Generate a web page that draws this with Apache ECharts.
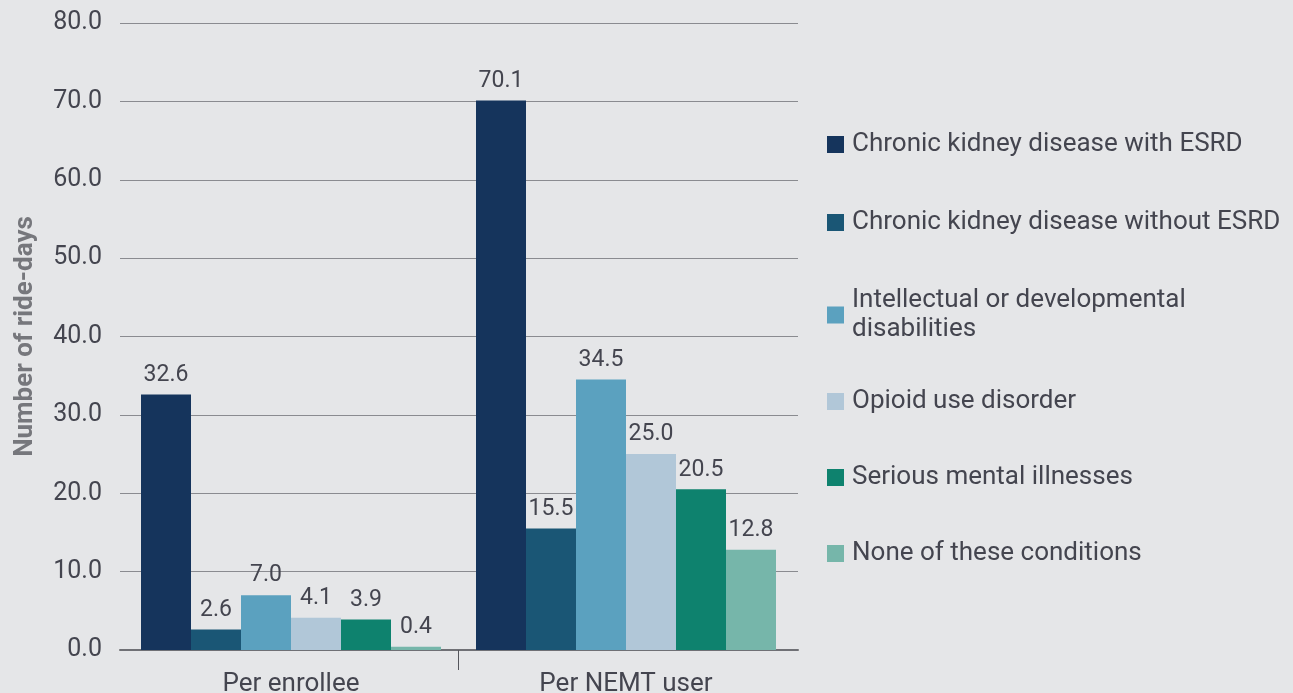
<!DOCTYPE html>
<html>
<head>
<meta charset="utf-8">
<script src="https://cdn.jsdelivr.net/npm/echarts@6/dist/echarts.min.js"></script>
<style>
html,body{margin:0;padding:0;background:#e5e6e8;}
#c{width:1293px;height:693px;}
</style>
</head>
<body>
<div id="c"></div>
<script>
const categories = ['Per enrollee', 'Per NEMT user'];
const seriesNames = [
  'Chronic kidney disease with ESRD',
  'Chronic kidney disease without ESRD',
  'Intellectual or developmental\ndisabilities',
  'Opioid use disorder',
  'Serious mental illnesses',
  'None of these conditions'
];
const ckdWithEsrd = [32.6, 70.1];
const ckdWithoutEsrd = [2.6, 15.5];
const intellectualDev = [7.0, 34.5];
const opioidUse = [4.1, 25.0];
const seriousMental = [3.9, 20.5];
const noneOfThese = [0.4, 12.8];
const yTicks = [0, 10, 20, 30, 40, 50, 60, 70, 80];

const colors = ['#15345c', '#1a5675', '#5ba1bf', '#b1c7d8', '#0e826e', '#76b6aa'];
const values = [ckdWithEsrd, ckdWithoutEsrd, intellectualDev, opioidUse, seriousMental, noneOfThese];
const textColor = '#44454f';
const font = 'Roboto';
const yMin = yTicks[0], yMax = yTicks[yTicks.length - 1];

const chart = echarts.init(document.getElementById('c'));
const legendBase = {
  orient: 'vertical',
  left: 822,
  itemWidth: 17,
  itemHeight: 17,
  icon: 'rect',
  selectedMode: false,
  textStyle: {color: textColor, fontSize: 26, fontFamily: font, lineHeight: 29, padding: [0, 0, 0, 3]}
};
chart.setOption({
  backgroundColor: '#e5e6e8',
  color: colors,
  animation: false,
  legend: [
    Object.assign({}, legendBase, {top: 125, itemGap: 49, data: seriesNames.slice(0, 3)}),
    Object.assign({}, legendBase, {top: 382, itemGap: 47, data: seriesNames.slice(3)})
  ],
  grid: [
    {left: 120, right: 495, top: 23, bottom: 43, containLabel: false, outerBoundsMode: 'none'},
    {left: 123.5, right: 499.5, top: 23, bottom: 43, containLabel: false, outerBoundsMode: 'none'}
  ],
  xAxis: [{
    gridIndex: 0,
    type: 'category',
    data: categories,
    offset: 1,
    axisLine: {lineStyle: {color: '#6f7075', width: 2}},
    axisTick: {show: false},
    axisLabel: {show: false}
  }, {
    gridIndex: 1,
    type: 'category',
    data: categories,
    axisLine: {show: false},
    axisTick: {show: false},
    axisLabel: {color: textColor, fontSize: 26, fontFamily: font, margin: 21}
  }, {
    gridIndex: 1,
    type: 'category',
    position: 'bottom',
    data: ['', '', ''],
    boundaryGap: false,
    axisLine: {show: false},
    axisLabel: {show: false},
    axisTick: {show: true, length: 20, lineStyle: {color: '#55565c', width: 1},
      interval: function (i) { return i === 1; }}
  }],
  yAxis: [{
    gridIndex: 0,
    type: 'value',
    min: yMin,
    max: yMax,
    interval: 10,
    name: 'Number of ride-days',
    nameLocation: 'middle',
    nameGap: 82,
    nameTextStyle: {color: '#76777c', fontSize: 26, fontWeight: 'bold', fontFamily: font},
    axisLine: {show: false},
    axisTick: {show: false},
    splitLine: {lineStyle: {color: '#8a8b90', width: 1}},
    axisLabel: {color: textColor, fontSize: 25, fontFamily: font, margin: 18,
      formatter: function (v) { return v.toFixed(1); }}
  }, {
    gridIndex: 1,
    type: 'value',
    min: yMin,
    max: yMax,
    interval: 10,
    show: false,
    splitLine: {show: false}
  }],
  series: seriesNames.map(function (n, i) {
    return {
      name: n,
      type: 'bar',
      xAxisIndex: 1,
      yAxisIndex: 1,
      data: values[i],
      barGap: '0%',
      barCategoryGap: '10.45%',
      itemStyle: {color: colors[i]},
      label: {show: true, position: 'top', distance: 8, color: textColor, fontSize: 23, fontFamily: font,
        formatter: function (p) { return p.value.toFixed(1); }}
    };
  })
});
</script>
</body>
</html>
